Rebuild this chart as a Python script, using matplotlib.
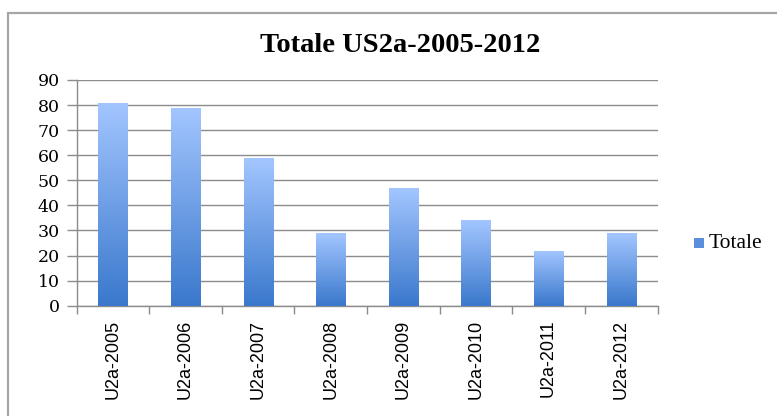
import matplotlib
matplotlib.use("Agg")
import matplotlib.pyplot as plt
import numpy as np
from matplotlib.patches import Rectangle
from matplotlib.colors import LinearSegmentedColormap

categories = ["U2a-2005", "U2a-2006", "U2a-2007", "U2a-2008",
              "U2a-2009", "U2a-2010", "U2a-2011", "U2a-2012"]
totale = [81, 79, 59, 29, 47, 34, 22, 29]
title = "Totale US2a-2005-2012"
series_name = "Totale"
yticks = list(range(0, 91, 10))

W, H = 777, 416
fig = plt.figure(figsize=(W / 100, H / 100), dpi=100)
fig.patch.set_facecolor("white")

# chart-area border
fig.add_artist(Rectangle((8 / W, -0.05), 1.0, 1 - 13 / H + 0.05,
                         transform=fig.transFigure, fill=False,
                         edgecolor="#a6a6a6", linewidth=1.6))

ax = fig.add_axes([76.5 / W, 1 - 305.7 / H, (657.5 - 76.5) / W, (305.7 - 80) / H])
ax.set_facecolor("white")

x = np.arange(len(categories))
bars = ax.bar(x, totale, width=0.4, color="none", edgecolor="none", zorder=3)

cmap = LinearSegmentedColormap.from_list("g", ["#3a78cc", "#a3c6ff"])
grad = np.linspace(0, 1, 256).reshape(-1, 1)
for b in bars:
    x0, y0 = b.get_x(), b.get_y()
    w, h = b.get_width(), b.get_height()
    im = ax.imshow(grad, extent=[x0, x0 + w, y0, y0 + h], origin="lower",
                   cmap=cmap, aspect="auto", zorder=3)
    im.set_clip_path(b)

ax.set_xlim(-0.5, len(categories) - 0.5)
ax.set_ylim(0, 90)
ax.set_yticks(yticks)
ax.set_yticklabels([str(v) for v in yticks], family="DejaVu Serif", fontsize=12.5)
ax.set_xticks(np.arange(-0.5, len(categories), 1.0), minor=False)
ax.set_xticklabels([])
ax.set_xticks(x, minor=True)
ax.set_xticklabels(categories, minor=True, rotation=90,
                   family="Liberation Sans", fontsize=13)
ax.tick_params(axis="x", which="major", length=6, color="#8c8c8c", width=1)
ax.tick_params(axis="x", which="minor", length=0, pad=10)
ax.tick_params(axis="y", length=7, color="#8c8c8c", width=1, pad=5)

ax.grid(axis="y", color="#8c8c8c", linewidth=1.0, zorder=0)
ax.set_axisbelow(True)
for s in ["top", "right"]:
    ax.spines[s].set_visible(False)
ax.spines["left"].set_color("#8c8c8c")
ax.spines["bottom"].set_color("#8c8c8c")
ax.spines["left"].set_linewidth(1.0)
ax.spines["bottom"].set_linewidth(1.0)

fig.text(400 / W, 1 - 46 / H, title, ha="center", va="center",
         family="Liberation Serif", fontweight="bold", fontsize=20.5)

# legend
fig.add_artist(Rectangle((694 / W, 1 - 248 / H), 10 / W, 10 / H,
                         transform=fig.transFigure, facecolor="#5b8fdc",
                         edgecolor="none"))
fig.text(709 / W, 1 - 243 / H, series_name, ha="left", va="center",
         family="Liberation Serif", fontsize=15.5)

fig.savefig("out.png", dpi=100)
